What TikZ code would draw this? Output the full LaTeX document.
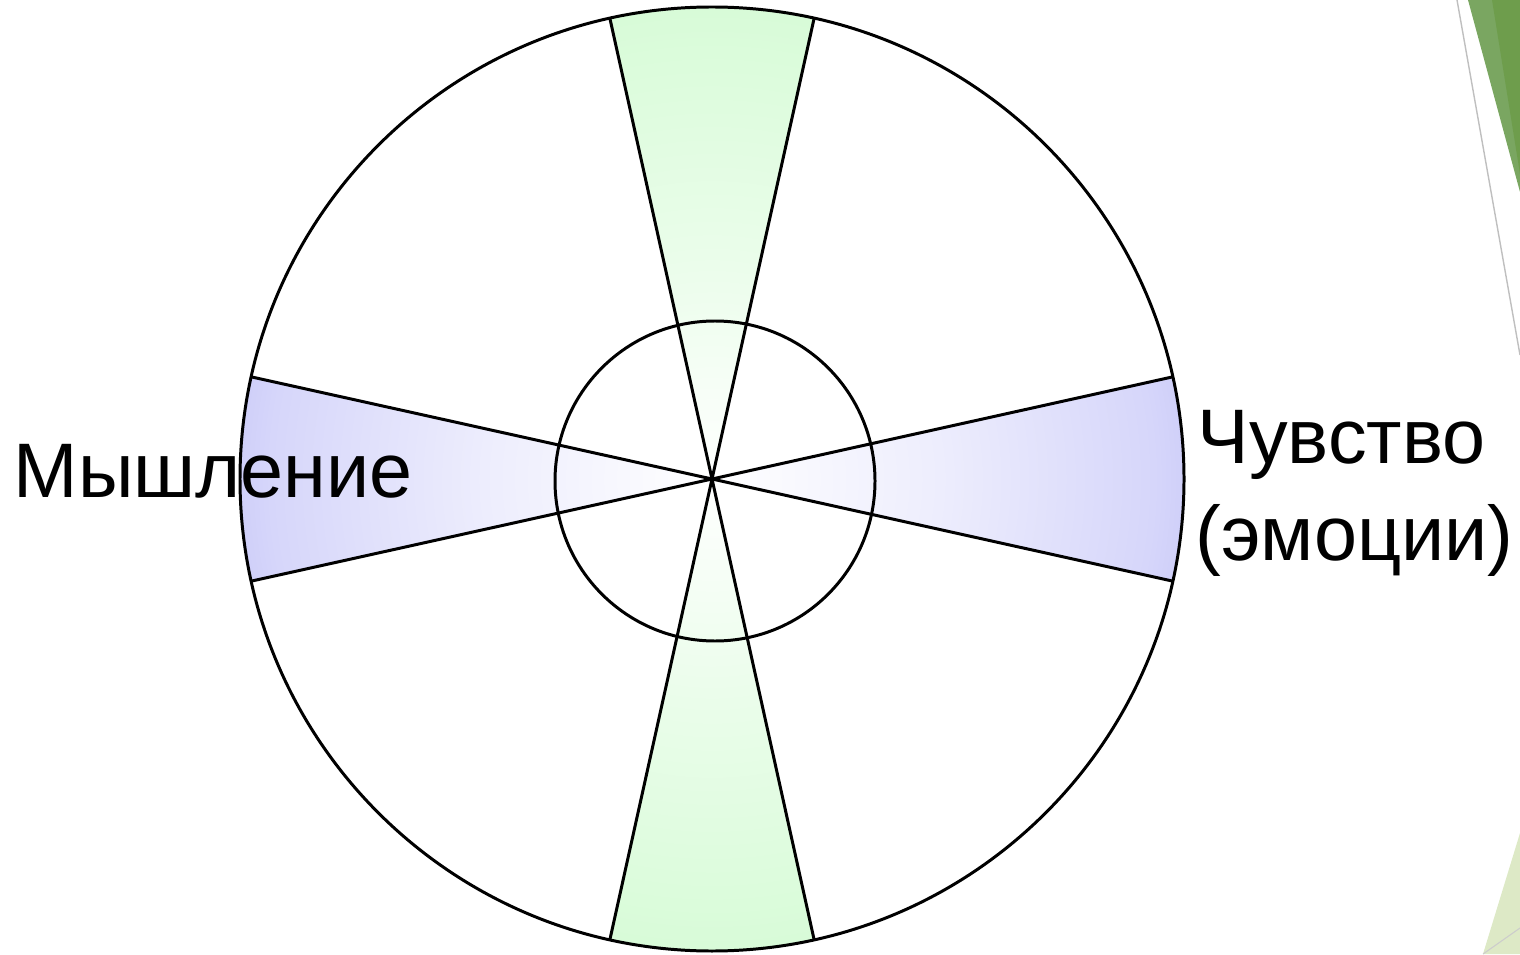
\documentclass[tikz,border=0pt]{standalone}
\usepackage{fontspec}
\setmainfont{Liberation Sans}
\usepackage{xcolor}
\usetikzlibrary{calc, positioning}

\definecolor{wedgeblue}{RGB}{166,166,244}
\definecolor{wedgegreen}{RGB}{202,250,202}
\definecolor{leafdark}{RGB}{110,157,76}
\definecolor{leaflight}{RGB}{122,166,97}
\definecolor{leafpale}{RGB}{221,233,198}

\pgfdeclareradialshading{blueglow}{\pgfpoint{0bp}{0bp}}{color(0bp)=(white); color(12bp)=(white!80!wedgeblue); color(23.4bp)=(white!54!wedgeblue); color(35.4bp)=(wedgeblue); color(50bp)=(wedgeblue)}
\pgfdeclareradialshading{greenglow}{\pgfpoint{0bp}{0bp}}{color(0bp)=(white); color(12bp)=(white!60!wedgegreen); color(23.4bp)=(white!30!wedgegreen); color(35.4bp)=(wedgegreen); color(50bp)=(wedgegreen)}

\tikzset{
    rim/.style={line width=0.85pt, black},
    label text/.style={inner sep=0pt, font=\fontsize{22}{27.6}\selectfont}
}

\begin{document}
\begin{tikzpicture}[x=0.1mm, y=0.1mm]
    \useasboundingbox (0,0) rectangle (1520,954);
    \coordinate (O) at (712,475);
    \coordinate (I) at (715,473);

    % 1. Trang trí góc phải
    \fill[leaflight] (1468,954) -- (1520,954) -- (1520,762) -- cycle;
    \fill[leafdark] (1492,954) -- (1520,954) -- (1520,780) -- cycle;
    \draw[gray!50, line width=0.4pt] (1457,954) -- (1520,599);
    \fill[leafpale] (1483,0) -- (1520,121) -- (1520,0) -- cycle;
    \draw[gray!40, line width=0.3pt] (1483,0) -- (1520,26);

    % 2. Các hình quạt tô màu
    \foreach \a/\glow in {0/blueglow, 180/blueglow, 90/greenglow, 270/greenglow} {
        \begin{scope}
            \clip (O) -- ++(\a-12.5:472) arc[start angle=\a-12.5, end angle=\a+12.5, radius=472] -- cycle;
            \shade[shading=\glow] (O) circle[radius=472];
        \end{scope}
    }

    % 3. Đường tròn và tia
    \draw[rim] (I) circle[radius=160];
    \foreach \a [count=\i] in {12.5, 77.5, 102.5, 167.5, 192.5, 257.5, 282.5, 347.5} {
        \coordinate (edge\i) at ($(O)+(\a:472)$);
        \draw[rim] (O) -- (edge\i);
    }
    \draw[rim] (O) circle[radius=472];

    % 4. Nhãn
    \node[label text, anchor=base west] (thinking) at (13,457) {Мышление};
    \node[label text, anchor=base west] (feeling) at (1197,491) {Чувство};
    \node[label text, anchor=base west] (emotions) at (1195,394) {(эмоции)};
\end{tikzpicture}
\end{document}
